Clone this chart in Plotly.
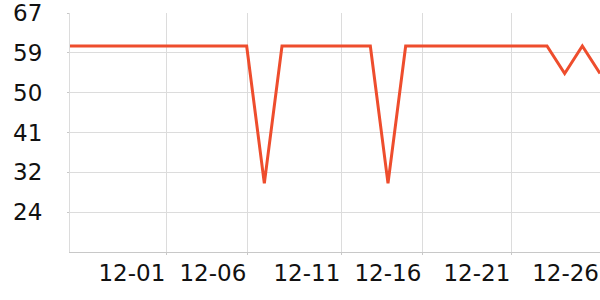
import plotly.graph_objects as go
import pandas as pd

dates = pd.date_range("2023-11-26", "2023-12-26", freq="D")
values = [60] * 11 + [30] + [60] * 6 + [30] + [60] * 9 + [54, 60, 54]

y_tickvals = [67.199, 58.5, 49.8, 41.1, 32.4, 23.7]
y_ticktext = ["67", "59", "50", "41", "32", "24"]
x_tickvals = ["2023-12-01 10:50", "2023-12-06 00:52", "2023-12-11 08:34",
              "2023-12-15 22:34", "2023-12-20 23:30", "2023-12-26 00:00"]
x_ticktext = ["12-01", "12-06", "12-11", "12-16", "12-21", "12-26"]

fig = go.Figure(go.Scatter(
    x=dates, y=values, mode="lines",
    line=dict(color="#ee4d2d", width=3),
    hoverinfo="skip",
))

fig.update_layout(
    width=600, height=300,
    margin=dict(l=70, r=0, t=10, b=48),
    paper_bgcolor="white", plot_bgcolor="white",
    showlegend=False,
    font=dict(family="DejaVu Sans", size=23, color="#111"),
)
fig.update_xaxes(
    range=[dates[0], dates[-1]],
    tickvals=x_tickvals, ticktext=x_ticktext,
    ticklabelposition="outside left",
    ticklabeloverflow="allow",
    showgrid=True, gridcolor="#dcdcdc", gridwidth=1,
    showline=True, linecolor="#c8c8c8", linewidth=1,
    ticks="outside", ticklen=2, tickcolor="#c8c8c8",
    zeroline=False,
)
fig.update_yaxes(
    range=[15, 67.2],
    tickvals=y_tickvals, ticktext=y_ticktext,
    ticklabeloverflow="allow",
    showgrid=True, gridcolor="#dcdcdc", gridwidth=1,
    showline=True, linecolor="#dcdcdc", linewidth=1,
    ticks="outside", ticklen=2, tickcolor="#c8c8c8",
    ticklabelstandoff=20,
    zeroline=False,
)

fig.write_html("out.html")
